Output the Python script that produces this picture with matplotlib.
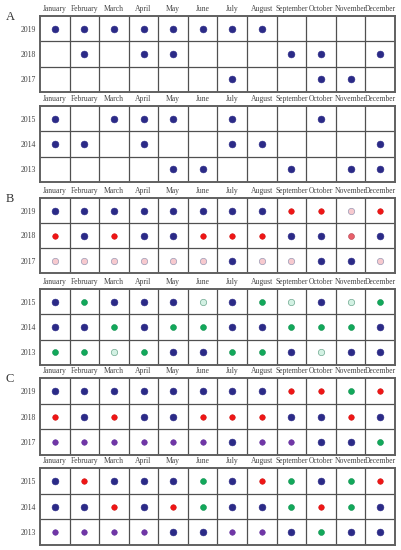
import matplotlib
matplotlib.use('Agg')
import matplotlib.pyplot as plt

plt.rcParams['font.family'] = ['Liberation Serif', 'DejaVu Serif']

months = ['January', 'February', 'March', 'April', 'May', 'June', 'July',
          'August', 'September', 'October', 'November', 'December']
years_top = ['2019', '2018', '2017']
years_bot = ['2015', '2014', '2013']

# panel A: 'N' = sample present, '.' = none
a_top = ['NNNNNNNN....',
         '.N.NN...NN.N',
         '......N..NN.']
a_bot = ['N.NNN.N..N..',
         'NN.N..NN...N',
         '....NN..N.NN']

# panel B
b_top = ['NNNNNNNNRRPR',
         'RNRNNRRRNNMN',
         'PPPPPPNPPNNP']
b_bot = ['NGNNNLNGLNLG',
         'NNGNGGNNGGGN',
         'GGLGNNGGNLNN']

# panel C
c_top = ['NNNNNNNNRRGR',
         'RNRNNRRRNNRN',
         'UUUUUUNUUNNG']
c_bot = ['NRNNNGNRGNGR',
         'NNRNRGNNGRGN',
         'UUUUNNUUNGNN']

styles = {
    'N': dict(c='#2B2A87', s=24, edgecolors='#2B2A87', linewidths=0.4),
    'R': dict(c='#F01515', s=16, edgecolors='#D01010', linewidths=0.4),
    'M': dict(c='#E8606A', s=18, edgecolors='#B04050', linewidths=0.4),
    'P': dict(c='#F7C9CE', s=21, edgecolors='#9A9AB5', linewidths=0.5),
    'G': dict(c='#12A85A', s=18, edgecolors='#0F9050', linewidths=0.4),
    'L': dict(c='#D3F1E3', s=21, edgecolors='#6FA890', linewidths=0.5),
    'U': dict(c='#7136A6', s=16, edgecolors='#6030A0', linewidths=0.4),
}

W, H = 402, 550
fig = plt.figure(figsize=(W / 100, H / 100), dpi=100)

tables = [
    (a_top, years_top, 16, 92, 'A'),
    (a_bot, years_bot, 106, 182, None),
    (b_top, years_top, 198, 273, 'B'),
    (b_bot, years_bot, 289, 365, None),
    (c_top, years_top, 378, 455, 'C'),
    (c_bot, years_bot, 468, 545, None),
]

x0, x1 = 40, 395
for rows, yrs, t, b, letter in tables:
    ax = fig.add_axes([x0 / W, 1 - b / H, (x1 - x0) / W, (b - t) / H])
    ax.set_xlim(0, 12)
    ax.set_ylim(3, 0)
    for i in range(1, 12):
        ax.axvline(i, color='#505050', lw=0.9)
    for j in range(1, 3):
        ax.axhline(j, color='#505050', lw=0.9)
    for sp in ax.spines.values():
        sp.set_color('#606060')
        sp.set_linewidth(1.4)
    for j, row in enumerate(rows):
        for i, code in enumerate(row):
            if code == '.':
                continue
            ax.scatter(i + 0.5, j + 0.5, zorder=3, **styles[code])
    ax.set_xticks([i + 0.5 for i in range(12)])
    ax.set_xticklabels(months, fontsize=5.5, color='#444444')
    ax.xaxis.tick_top()
    ax.tick_params(axis='x', length=0, pad=2.5)
    ax.set_yticks([0.5, 1.5, 2.5])
    ax.set_yticklabels(yrs, fontsize=5.6, color='#444444')
    ax.tick_params(axis='y', length=0, pad=3)
    if letter:
        fig.text(10 / W, 1 - (t + 1) / H, letter, fontsize=9, ha='center',
                 va='center', color='#333333')

fig.savefig('out.png', dpi=100)
